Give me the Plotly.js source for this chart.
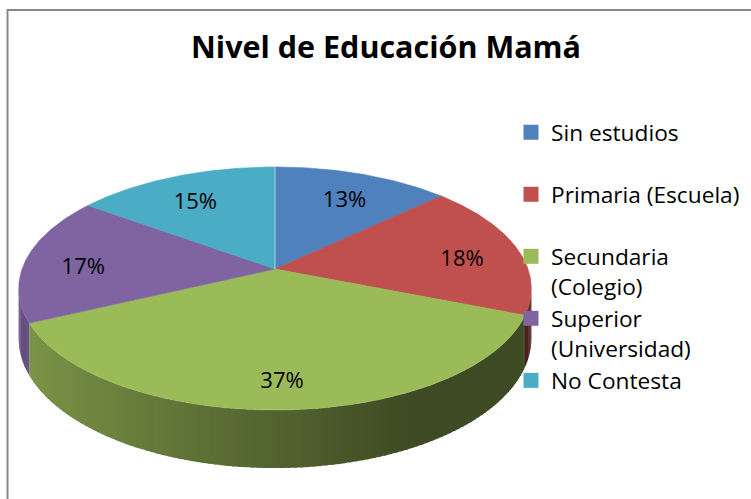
<!DOCTYPE html>
<html>
<head>
<meta charset="utf-8">
<script src="https://cdn.plot.ly/plotly-3.0.1.min.js"></script>
<style>html,body{margin:0;padding:0;background:#fff;}#chart{width:751px;height:499px;}</style>
</head>
<body>
<div id="chart"></div>
<script>
// ---- data ----
const categories = ['Sin estudios', 'Primaria (Escuela)', 'Secundaria (Colegio)', 'Superior (Universidad)', 'No Contesta'];
const legendLabels = ['Sin estudios<br>\u00a0', 'Primaria (Escuela)<br>\u00a0', 'Secundaria<br>(Colegio)', 'Superior<br>(Universidad)', 'No Contesta'];
const values = [13, 18, 37, 17, 15];
const colors = ['#4F81BD', '#C0504D', '#9BBB59', '#8064A2', '#4BACC6'];
const chartTitle = 'Nivel de Educación Mamá';

// ---- 3D pie projection (style / geometry) ----
const CX = 275, CY = 269, RXS = 253, RYS = 118.4, K = 0.1605, DEPTH = 48.7;
const LABEL_R = 0.77, LABEL_DROP = 8;
const DEG = Math.PI / 180;

function proj(theta, r, depth) {
  const u = r * Math.sin(theta), v = -r * Math.cos(theta);
  const s = 1 / (1 - K * v);
  return [CX + RXS * u * s, CY + RYS * v * s + depth * s];
}
function shade(hex, f) {
  const n = parseInt(hex.slice(1), 16);
  const r = Math.round(((n >> 16) & 255) * f), g = Math.round(((n >> 8) & 255) * f), b = Math.round((n & 255) * f);
  return 'rgb(' + r + ',' + g + ',' + b + ')';
}
function wallFactor(theta) {
  const u = Math.sin(theta);
  const t = Math.min(1, Math.max(0, (u + 1) / 1.45));
  return 0.82 - 0.42 * t;
}

const total = values.reduce((a, b) => a + b, 0);
const starts = [], ends = [];
let acc = 0;
values.forEach(v => { starts.push(acc / total * 2 * Math.PI); acc += v; ends.push(acc / total * 2 * Math.PI); });

const traces = [];
// side walls (front half only), strips with slight overlap
const wallA = Math.acos(-K), wallB = 2 * Math.PI - Math.acos(-K);
values.forEach((v, i) => {
  const a0 = Math.max(starts[i], wallA), a1 = Math.min(ends[i], wallB);
  if (a1 <= a0) return;
  const n = Math.max(1, Math.ceil((a1 - a0) / (1.2 * DEG)));
  for (let j = 0; j < n; j++) {
    const t1 = a0 + (a1 - a0) * j / n;
    const t2 = Math.min(a0 + (a1 - a0) * (j + 1) / n + 0.5 * DEG, wallB);
    const tEnd = (j === n - 1) ? a1 : t2;
    const p = [proj(t1, 1, 0), proj(tEnd, 1, 0), proj(tEnd, 1, DEPTH), proj(t1, 1, DEPTH), proj(t1, 1, 0)];
    const c = shade(colors[i], wallFactor((t1 + tEnd) / 2));
    traces.push({
      type: 'scatter', mode: 'none', x: p.map(q => q[0]), y: p.map(q => q[1]),
      fill: 'toself', fillcolor: c,
      hoverinfo: 'skip', showlegend: false
    });
  }
});
// top surfaces
values.forEach((v, i) => {
  const xs = [CX], ys = [CY];
  const n = Math.max(2, Math.ceil((ends[i] - starts[i]) / (0.5 * DEG)));
  for (let j = 0; j <= n; j++) {
    const p = proj(starts[i] + (ends[i] - starts[i]) * j / n, 1, 0);
    xs.push(p[0]); ys.push(p[1]);
  }
  xs.push(CX); ys.push(CY);
  traces.push({
    type: 'scatter', mode: 'lines', x: xs, y: ys, fill: 'toself',
    fillcolor: colors[i], line: {color: colors[i], width: 0.6},
    name: categories[i], hoverinfo: 'name', showlegend: false
  });
});
// subtle highlight on the 12 o'clock edge
(function () {
  const p = proj(0, 1, 0);
  traces.push({type: 'scatter', mode: 'lines', x: [CX, p[0]], y: [CY, p[1]],
    line: {color: 'rgba(200,220,240,0.8)', width: 1}, hoverinfo: 'skip', showlegend: false});
})();
// data labels
const lx = [], ly = [], lt = [];
values.forEach((v, i) => {
  const p = proj((starts[i] + ends[i]) / 2, LABEL_R, LABEL_DROP);
  lx.push(p[0]); ly.push(p[1]); lt.push(Math.round(v / total * 100) + '%');
});
traces.push({type: 'scatter', mode: 'text', x: lx, y: ly, text: lt, textposition: 'middle center',
  textfont: {family: '"Open Sans", Lato, sans-serif', size: 22, color: '#000'},
  hoverinfo: 'skip', showlegend: false, cliponaxis: false});
// legend entries
values.forEach((v, i) => {
  traces.push({type: 'scatter', mode: 'markers', x: [null], y: [null], name: legendLabels[i],
    marker: {symbol: 'square', size: 15, color: colors[i]}, showlegend: true, hoverinfo: 'skip'});
});

const layout = {
  width: 751, height: 499,
  margin: {l: 0, r: 0, t: 0, b: 0},
  paper_bgcolor: '#fff', plot_bgcolor: '#fff',
  xaxis: {range: [0, 751], visible: false, fixedrange: true},
  yaxis: {range: [499, 0], visible: false, fixedrange: true},
  title: {text: chartTitle, x: 386 / 751, xanchor: 'center', xref: 'paper', y: 1 - 47 / 499, yanchor: 'middle', yref: 'container',
    font: {family: '"Open Sans", Lato, sans-serif', size: 30.5, weight: 700, color: '#000'}},
  showlegend: true,
  legend: {x: 511 / 751, xanchor: 'left', y: 1 - 111 / 499, yanchor: 'top', valign: 'top',
    font: {family: '"Open Sans", Lato, sans-serif', size: 22.7, color: '#000'},
    bgcolor: 'rgba(0,0,0,0)', borderwidth: 0, itemclick: false, itemdoubleclick: false, traceorder: 'normal'},
  shapes: [{type: 'rect', xref: 'x', yref: 'y', x0: 7.5, y0: 10, x1: 900, y1: 700,
    line: {color: '#878787', width: 2}, fillcolor: 'rgba(0,0,0,0)', layer: 'below'}]
};
Plotly.newPlot('chart', traces, layout, {displayModeBar: false, staticPlot: true});
</script>
</body>
</html>
